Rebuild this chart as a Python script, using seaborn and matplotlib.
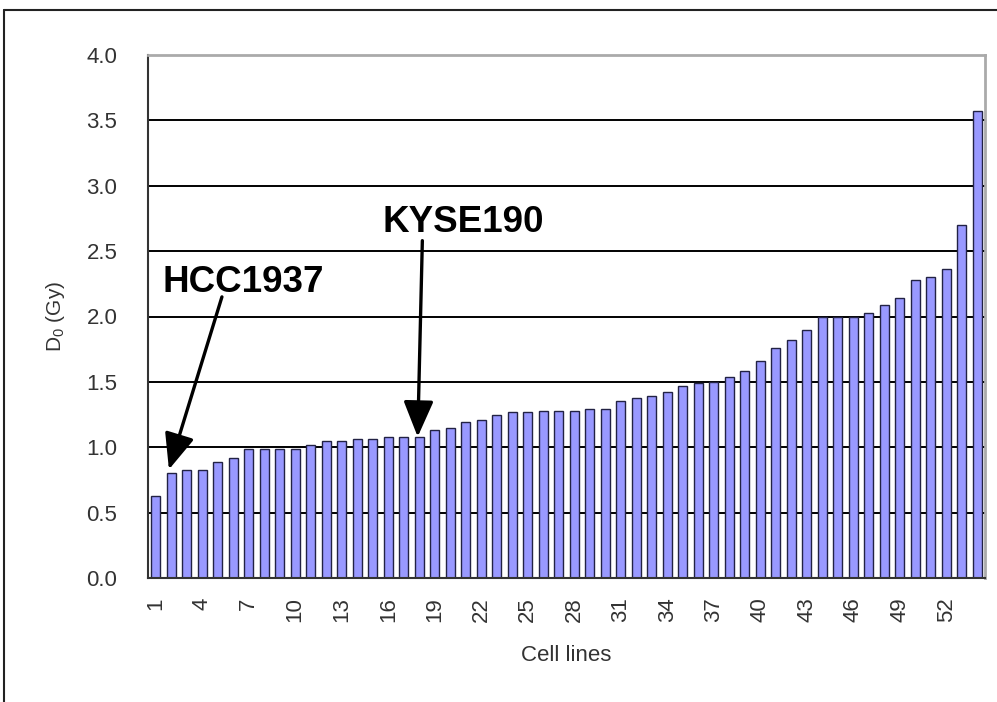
import matplotlib
matplotlib.use("Agg")
import matplotlib.pyplot as plt
import seaborn as sns
import pandas as pd
from matplotlib.lines import Line2D

cell_lines = [str(i) for i in range(1, 55)]
d0_values = [0.63, 0.80, 0.825, 0.825, 0.89, 0.92, 0.99, 0.99, 0.99, 0.99,
             1.02, 1.05, 1.05, 1.06, 1.06, 1.075, 1.075, 1.075, 1.135, 1.15,
             1.19, 1.21, 1.245, 1.27, 1.27, 1.28, 1.28, 1.28, 1.29, 1.29,
             1.35, 1.375, 1.395, 1.42, 1.465, 1.49, 1.50, 1.54, 1.58, 1.66,
             1.76, 1.82, 1.90, 2.00, 2.00, 2.00, 2.03, 2.09, 2.14, 2.28,
             2.30, 2.36, 2.70, 3.57]
tick_labels = [str(i) for i in range(1, 55, 3)]
yticks = [0.0, 0.5, 1.0, 1.5, 2.0, 2.5, 3.0, 3.5, 4.0]

df = pd.DataFrame({"cell": cell_lines, "d0": d0_values})

sns.set_theme(style="white")
plt.rcParams['font.family'] = ['Liberation Sans', 'DejaVu Sans']
plt.rcParams['mathtext.fontset'] = 'custom'
plt.rcParams['mathtext.rm'] = 'Liberation Sans'

fig = plt.figure(figsize=(9.97, 7.02), dpi=100)
ax = fig.add_axes([148/997, 1-578/702, (985-148)/997, (578-55)/702])

for y in yticks[1:-1]:
    ax.axhline(y, color="black", lw=1.4, zorder=0)

sns.barplot(data=df, x="cell", y="d0", order=cell_lines, color="#9999ff",
            saturation=1, width=0.58, edgecolor="#222244", linewidth=1.0,
            ax=ax, zorder=2)

ax.set_ylim(0, 4.0)
ax.set_xlim(-0.5, 53.5)
ax.set_yticks(yticks)
ax.set_yticklabels([f"{v:.1f}" for v in yticks], fontsize=16, color="#333333")
ax.set_xticks(list(range(0, 54, 3)))
ax.set_xticklabels(tick_labels, rotation=90, fontsize=16, color="#333333")
ax.tick_params(axis="y", length=0, pad=22)
ax.tick_params(axis="x", length=0, pad=14)
ax.set_xlabel("Cell lines", fontsize=16, color="#333333", labelpad=16)
ax.set_ylabel(r"D$_\mathregular{0}$ (Gy)", fontsize=15, color="#333333", labelpad=14)

for s in ["left", "bottom"]:
    ax.spines[s].set_color("#333333")
    ax.spines[s].set_linewidth(1.5)
for s in ["top", "right"]:
    ax.spines[s].set_color("#aaaaaa")
    ax.spines[s].set_linewidth(2.0)

arrow = dict(arrowstyle="-|>,head_length=1.0,head_width=0.42", color="black",
             lw=2.4, mutation_scale=22, shrinkA=0, shrinkB=0)
ax.annotate("", xy=(0.85, 0.83), xytext=(4.27, 2.15), arrowprops=arrow, zorder=5)
ax.text(0.45, 2.26, "HCC1937", fontsize=26.5, fontweight="bold",
        ha="left", va="center", color="black", zorder=5)
ax.annotate("", xy=(16.9, 1.08), xytext=(17.2, 2.58), arrowprops=arrow, zorder=5)
ax.text(14.6, 2.72, "KYSE190", fontsize=26.5, fontweight="bold",
        ha="left", va="center", color="black", zorder=5)

# figure border (top and left)
fig.add_artist(Line2D([4/997, 1], [1-10/702, 1-10/702], color="#222222", lw=1.5,
                      transform=fig.transFigure))
fig.add_artist(Line2D([4/997, 4/997], [0, 1-10/702], color="#222222", lw=1.5,
                      transform=fig.transFigure))

fig.savefig("out.png", dpi=100)
